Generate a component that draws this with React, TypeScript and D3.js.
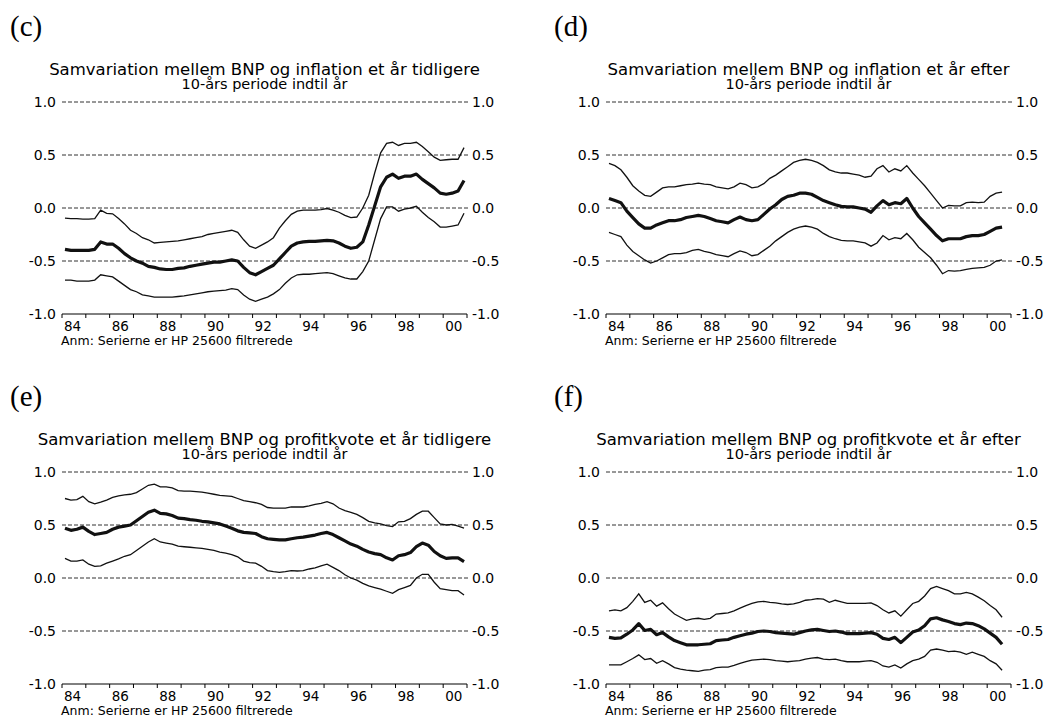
import React from 'react';
import * as d3 from 'd3';

// quarterly observations, plotted mid-quarter
const quartersLag = d3.range(68).map((k) => 1984.125 + k * 0.25);
const quartersLead = d3.range(67).map((k) => 1984.125 + k * 0.25);

const yTicks = [1.0, 0.5, 0.0, -0.5, -1.0];
const yTickLabels = ['1.0', '0.5', '0.0', '-0.5', '-1.0'];
const xTickYears = [1984, 1986, 1988, 1990, 1992, 1994, 1996, 1998, 2000];
const xTickLabels = ['84', '86', '88', '90', '92', '94', '96', '98', '00'];

// (c) inflation et år tidligere
const cUpper = [
  -0.095, -0.1, -0.1, -0.105, -0.105, -0.1, -0.02, -0.05, -0.055, -0.1, -0.15, -0.21,
  -0.24, -0.28, -0.3, -0.33, -0.325, -0.32, -0.315, -0.31, -0.3, -0.29, -0.28, -0.27,
  -0.25, -0.24, -0.23, -0.22, -0.21, -0.23, -0.3, -0.36, -0.38, -0.35, -0.32, -0.28,
  -0.19, -0.12, -0.06, -0.03, -0.02, -0.02, -0.02, -0.015, -0.005, -0.02, -0.04, -0.07,
  -0.09, -0.085, 0.0, 0.12, 0.33, 0.52, 0.61, 0.62, 0.59, 0.61, 0.61, 0.62,
  0.58, 0.53, 0.48, 0.45, 0.455, 0.46, 0.46, 0.57,
];
const cMid = [
  -0.39, -0.4, -0.4, -0.4, -0.4, -0.39, -0.32, -0.34, -0.34, -0.38, -0.43, -0.47,
  -0.5, -0.52, -0.55, -0.56, -0.575, -0.58, -0.58, -0.57, -0.565, -0.55, -0.54, -0.53,
  -0.52, -0.51, -0.51, -0.5, -0.49, -0.5, -0.56, -0.61, -0.63, -0.6, -0.57, -0.54,
  -0.48, -0.42, -0.36, -0.33, -0.32, -0.315, -0.315, -0.31, -0.305, -0.31, -0.33, -0.36,
  -0.38, -0.37, -0.32, -0.16, 0.02, 0.2, 0.29, 0.32, 0.28, 0.3, 0.3, 0.32,
  0.27, 0.23, 0.19, 0.14, 0.13, 0.14, 0.16, 0.26,
];
const cLower = [
  -0.68, -0.68, -0.69, -0.69, -0.69, -0.68, -0.63, -0.64, -0.65, -0.69, -0.73, -0.77,
  -0.79, -0.82, -0.83, -0.84, -0.84, -0.84, -0.84, -0.835, -0.83, -0.82, -0.81, -0.8,
  -0.79, -0.785, -0.78, -0.775, -0.76, -0.77, -0.82, -0.86, -0.88, -0.86, -0.84, -0.81,
  -0.77, -0.71, -0.66, -0.63, -0.625, -0.625, -0.62, -0.615, -0.61, -0.62, -0.64, -0.66,
  -0.67, -0.67, -0.6, -0.5, -0.3, -0.1, 0.01, 0.01, -0.03, -0.01, 0.0, 0.016,
  -0.04, -0.09, -0.13, -0.18, -0.18, -0.17, -0.16, -0.05,
];

// (d) inflation et år efter
const dUpper = [
  0.42, 0.4, 0.36, 0.29, 0.21, 0.16, 0.12, 0.11, 0.15, 0.19, 0.2, 0.2,
  0.21, 0.22, 0.225, 0.235, 0.225, 0.22, 0.2, 0.19, 0.18, 0.2, 0.235, 0.22,
  0.19, 0.2, 0.23, 0.28, 0.31, 0.35, 0.39, 0.43, 0.45, 0.46, 0.45, 0.43,
  0.4, 0.36, 0.34, 0.33, 0.33, 0.32, 0.31, 0.29, 0.3, 0.37, 0.4, 0.34,
  0.37, 0.35, 0.4, 0.33, 0.27, 0.21, 0.14, 0.07, 0.0, 0.025, 0.02, 0.02,
  0.05, 0.055, 0.05, 0.055, 0.11, 0.14, 0.15,
];
const dMid = [
  0.09, 0.07, 0.05, -0.03, -0.09, -0.15, -0.19, -0.19, -0.16, -0.14, -0.12, -0.12,
  -0.11, -0.09, -0.08, -0.07, -0.08, -0.1, -0.12, -0.13, -0.14, -0.11, -0.085, -0.11,
  -0.12, -0.11, -0.06, -0.01, 0.03, 0.08, 0.11, 0.12, 0.14, 0.14, 0.13, 0.1,
  0.07, 0.05, 0.03, 0.015, 0.01, 0.01, 0.0, -0.01, -0.04, 0.02, 0.07, 0.03,
  0.05, 0.04, 0.09, 0.0, -0.08, -0.14, -0.2, -0.26, -0.31, -0.29, -0.29, -0.29,
  -0.27, -0.26, -0.26, -0.25, -0.22, -0.19, -0.18,
];
const dLower = [
  -0.23, -0.25, -0.27, -0.35, -0.41, -0.45, -0.49, -0.52, -0.5, -0.47, -0.44, -0.43,
  -0.43, -0.42, -0.4, -0.39, -0.41, -0.42, -0.44, -0.45, -0.46, -0.43, -0.405, -0.42,
  -0.45, -0.44, -0.4, -0.36, -0.31, -0.27, -0.23, -0.2, -0.18, -0.17, -0.18, -0.2,
  -0.24, -0.27, -0.29, -0.305, -0.31, -0.31, -0.32, -0.33, -0.36, -0.33, -0.26, -0.3,
  -0.28, -0.29, -0.24, -0.3, -0.37, -0.42, -0.47, -0.54, -0.62, -0.59, -0.595, -0.59,
  -0.58, -0.57, -0.565, -0.56, -0.54, -0.5, -0.49,
];

// (e) profitkvote et år tidligere
const eUpper = [
  0.75, 0.735, 0.74, 0.77, 0.72, 0.7, 0.715, 0.735, 0.76, 0.775, 0.785, 0.79,
  0.805, 0.84, 0.875, 0.885, 0.86, 0.86, 0.85, 0.825, 0.82, 0.82, 0.815, 0.81,
  0.8, 0.79, 0.78, 0.775, 0.77, 0.75, 0.73, 0.72, 0.71, 0.695, 0.665, 0.66,
  0.66, 0.66, 0.67, 0.67, 0.67, 0.68, 0.695, 0.705, 0.72, 0.7, 0.66, 0.635,
  0.62, 0.6, 0.57, 0.535, 0.52, 0.51, 0.495, 0.485, 0.53, 0.535, 0.56, 0.6,
  0.63, 0.63, 0.57, 0.51, 0.5, 0.505, 0.49, 0.47,
];
const eMid = [
  0.47, 0.45, 0.46, 0.48, 0.44, 0.41, 0.42, 0.43, 0.46, 0.48, 0.49, 0.5,
  0.54, 0.58, 0.62, 0.64, 0.61, 0.605, 0.59, 0.565, 0.56, 0.55, 0.545, 0.535,
  0.53, 0.52, 0.51, 0.49, 0.47, 0.445, 0.43, 0.425, 0.42, 0.39, 0.37, 0.365,
  0.36, 0.36, 0.37, 0.38, 0.385, 0.395, 0.405, 0.42, 0.43, 0.41, 0.38, 0.35,
  0.32, 0.3, 0.27, 0.245, 0.23, 0.22, 0.19, 0.17, 0.21, 0.22, 0.24, 0.295,
  0.33, 0.31, 0.25, 0.21, 0.185, 0.19, 0.19, 0.155,
];
const eLower = [
  0.185, 0.16, 0.16, 0.17, 0.13, 0.11, 0.115, 0.14, 0.16, 0.18, 0.205, 0.22,
  0.26, 0.3, 0.34, 0.37, 0.34, 0.33, 0.32, 0.3, 0.295, 0.29, 0.285, 0.28,
  0.27, 0.26, 0.245, 0.235, 0.22, 0.2, 0.16, 0.145, 0.14, 0.11, 0.07, 0.06,
  0.053, 0.06, 0.07, 0.066, 0.07, 0.085, 0.095, 0.115, 0.13, 0.1, 0.07, 0.03,
  0.0, -0.02, -0.05, -0.075, -0.09, -0.105, -0.125, -0.145, -0.11, -0.09, -0.07, 0.0,
  0.035, 0.035, -0.04, -0.1, -0.11, -0.12, -0.12, -0.16,
];

// (f) profitkvote et år efter
const fUpper = [
  -0.31, -0.3, -0.31, -0.28, -0.22, -0.15, -0.23, -0.21, -0.265, -0.235, -0.29, -0.34,
  -0.37, -0.4, -0.385, -0.38, -0.39, -0.38, -0.34, -0.335, -0.33, -0.31, -0.285, -0.26,
  -0.24, -0.225, -0.22, -0.23, -0.235, -0.245, -0.25, -0.245, -0.23, -0.21, -0.205, -0.195,
  -0.2, -0.23, -0.21, -0.225, -0.24, -0.24, -0.24, -0.24, -0.235, -0.26, -0.3, -0.33,
  -0.31, -0.36, -0.3, -0.24, -0.22, -0.17, -0.1, -0.08, -0.1, -0.12, -0.15, -0.15,
  -0.135, -0.15, -0.18, -0.215, -0.26, -0.3, -0.37,
];
const fMid = [
  -0.56, -0.57, -0.565, -0.53, -0.49, -0.43, -0.495, -0.485, -0.535, -0.515, -0.555, -0.59,
  -0.61, -0.63, -0.63, -0.63, -0.625, -0.62, -0.59, -0.585, -0.58, -0.56, -0.545, -0.53,
  -0.52, -0.505, -0.5, -0.505, -0.515, -0.52, -0.525, -0.53, -0.515, -0.5, -0.49, -0.485,
  -0.495, -0.505, -0.5, -0.51, -0.525, -0.525, -0.525, -0.52, -0.515, -0.53, -0.57, -0.58,
  -0.56, -0.61, -0.56, -0.51, -0.49, -0.45, -0.385, -0.375, -0.395, -0.41, -0.43, -0.44,
  -0.425, -0.43, -0.45, -0.48, -0.52, -0.56, -0.625,
];
const fLower = [
  -0.82, -0.82, -0.82, -0.79, -0.76, -0.725, -0.77, -0.76, -0.805, -0.78, -0.81, -0.845,
  -0.86, -0.87, -0.875, -0.88, -0.87, -0.865, -0.845, -0.84, -0.84, -0.825, -0.805, -0.79,
  -0.775, -0.77, -0.765, -0.77, -0.78, -0.785, -0.79, -0.785, -0.78, -0.765, -0.755, -0.75,
  -0.765, -0.77, -0.765, -0.78, -0.79, -0.79, -0.79, -0.785, -0.78, -0.795, -0.83, -0.84,
  -0.82, -0.85, -0.81, -0.78, -0.765, -0.74, -0.68, -0.67, -0.68, -0.695, -0.69, -0.7,
  -0.72, -0.7, -0.72, -0.74, -0.78, -0.81, -0.87,
];

const panels = [
  { tag: '(c)', title: 'Samvariation mellem BNP og inflation et år tidligere', dx: 0, dy: 0, q: quartersLag, upper: cUpper, mid: cMid, lower: cLower },
  { tag: '(d)', title: 'Samvariation mellem BNP og inflation et år efter', dx: 544, dy: 0, q: quartersLead, upper: dUpper, mid: dMid, lower: dLower },
  { tag: '(e)', title: 'Samvariation mellem BNP og profitkvote et år tidligere', dx: 0, dy: 370, q: quartersLag, upper: eUpper, mid: eMid, lower: eLower },
  { tag: '(f)', title: 'Samvariation mellem BNP og profitkvote et år efter', dx: 544, dy: 370, q: quartersLead, upper: fUpper, mid: fMid, lower: fLower },
];

const FONT = '"DejaVu Sans", Verdana, sans-serif';

const Panel = ({ p }) => {
  const x = d3.scaleLinear().domain([1984, 2001]).range([62, 467]);
  const y = d3.scaleLinear().domain([-1, 1]).range([314, 102]);
  const line = d3
    .line<number>()
    .x((_, i) => x(p.q[i]))
    .y((d) => y(d));
  const years = d3.range(1984, 2002);

  return (
    <g transform={`translate(${p.dx},${p.dy})`}>
      <text x={10} y={36} fontFamily='"Liberation Serif", "Times New Roman", serif' fontSize={29}>
        {p.tag}
      </text>
      <text x={264.5} y={75} textAnchor="middle" fontFamily={FONT} fontSize={16.5}>
        {p.title}
      </text>
      <text x={264.5} y={89} textAnchor="middle" fontFamily={FONT} fontSize={14.5}>
        10-års periode indtil år
      </text>

      {/* grid lines */}
      {yTicks.slice(0, 4).map((v) => (
        <line key={v} x1={62} x2={470} y1={y(v)} y2={y(v)} stroke="#333" strokeWidth={1} strokeDasharray="4,2" />
      ))}
      {yTicks.map((v, i) => (
        <g key={'l' + v} fontFamily={FONT} fontSize={14}>
          <text x={56} y={y(v)} dy="0.35em" textAnchor="end">{yTickLabels[i]}</text>
          <text x={472} y={y(v)} dy="0.35em">{yTickLabels[i]}</text>
        </g>
      ))}

      {/* x axis */}
      <line x1={62} x2={467} y1={y(-1)} y2={y(-1)} stroke="#000" strokeWidth={1} />
      {years.map((yr) => (
        <line key={yr} x1={x(yr)} x2={x(yr)} y1={y(-1)} y2={y(-1) + 4} stroke="#000" strokeWidth={1} />
      ))}
      {xTickYears.map((yr, i) => (
        <text key={yr} x={x(yr) + 2} y={331} fontFamily={FONT} fontSize={13.5}>
          {xTickLabels[i]}
        </text>
      ))}
      <text x={61} y={344.5} fontFamily={FONT} fontSize={12.5}>
        Anm: Serierne er HP 25600 filtrerede
      </text>

      {/* series */}
      <path d={line(p.upper) || ''} fill="none" stroke="#111" strokeWidth={1.3} />
      <path d={line(p.lower) || ''} fill="none" stroke="#111" strokeWidth={1.3} />
      <path d={line(p.mid) || ''} fill="none" stroke="#111" strokeWidth={3.2} strokeLinejoin="round" />
    </g>
  );
};

export default function App() {
  return (
    <svg width={1047} height={716} style={{ position: 'absolute', left: 0, top: 0, background: '#fff' }}>
      {panels.map((p) => (
        <Panel key={p.tag} p={p} />
      ))}
    </svg>
  );
}
